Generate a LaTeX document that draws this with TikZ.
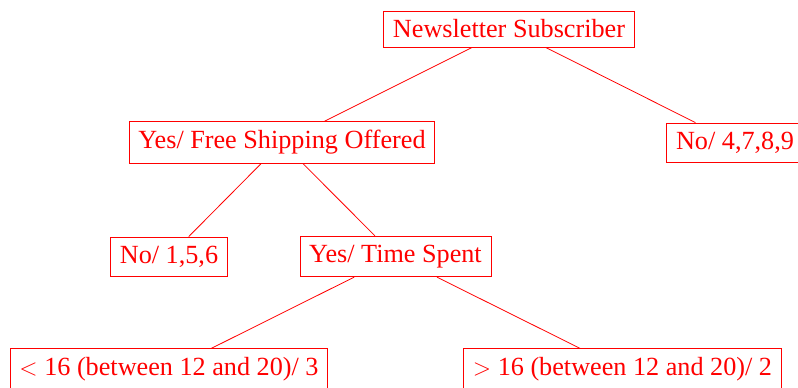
\documentclass[tikz,border=0pt]{standalone}
\usepackage{fontspec}
\setmainfont{Liberation Serif}
\usepackage{tikz}
\usetikzlibrary{positioning}

\begin{document}
\begin{tikzpicture}[x=0.5pt, y=-0.5pt, red,
    treebox/.style={draw=red, text=red, rectangle, inner xsep=4.6pt, inner ysep=4.4pt,
        font=\fontsize{13.1}{15}\selectfont}]
    \clip (0,0) rectangle (798,387);

    % Root
    \node[treebox] (Root) at (509,29) {Newsletter Subscriber};

    % Second level
    \node[treebox] (Ship) at (282,142.5) {Yes/ Free Shipping Offered};
    \node[treebox] (NoA) at (735,142.5) {No/ 4,7,8,9};

    % Third level
    \node[treebox] (NoB) at (169,256.5) {No/ 1,5,6};
    \node[treebox] (Time) at (395.5,256.5) {Yes/ Time Spent};

    % Leaves
    \node[treebox] (Less) at (169,369.5) {$<$ 16 (between 12 and 20)/ 3};
    \node[treebox] (More) at (622.5,369.5) {$>$ 16 (between 12 and 20)/ 2};

    % Branches
    \draw (Root) -- (Ship);
    \draw (Root) -- (NoA);
    \draw (Ship) -- (NoB);
    \draw (Ship) -- (Time);
    \draw (Time) -- (Less);
    \draw (Time) -- (More);
\end{tikzpicture}
\end{document}
